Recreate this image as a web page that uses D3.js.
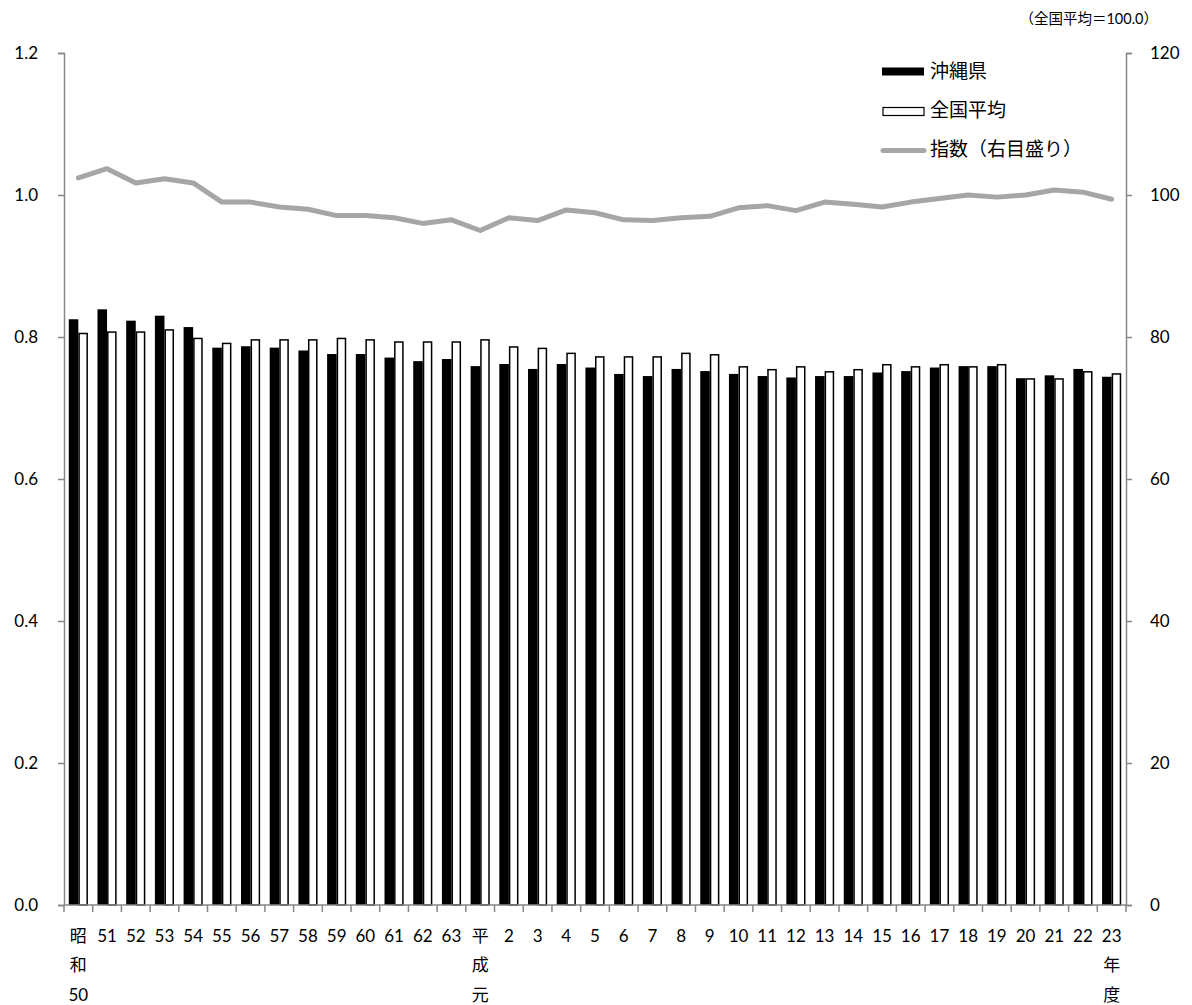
<!DOCTYPE html>
<html>
<head>
<meta charset="utf-8">
<script src="https://cdn.jsdelivr.net/npm/d3@7"></script>
<style>
body{margin:0;background:#fff;}
svg{display:block;font-family:Lato,"Noto Sans CJK JP",sans-serif;}
</style>
</head>
<body>
<svg id="chart" width="1192" height="1005"></svg>
<script>
const categories=[
  "昭和50","51","52","53","54","55","56","57","58","59","60","61","62","63",
  "平成元","2","3","4","5","6","7","8","9","10","11","12","13","14","15","16","17","18","19","20","21","22","23年度"
];
// 表示用の縦書きラベル
const tickLabels=[
  ["昭","和","50"],["51"],["52"],["53"],["54"],["55"],["56"],["57"],["58"],["59"],["60"],["61"],["62"],["63"],
  ["平","成","元"],["2"],["3"],["4"],["5"],["6"],["7"],["8"],["9"],["10"],["11"],["12"],["13"],["14"],["15"],["16"],["17"],["18"],["19"],["20"],["21"],["22"],["23","年","度"]
];
const okinawa=[0.825,0.839,0.823,0.830,0.814,0.785,0.787,0.785,0.781,0.776,0.776,0.771,0.766,0.769,
  0.759,0.762,0.755,0.762,0.757,0.748,0.745,0.755,0.752,0.748,0.745,0.743,0.745,0.745,0.750,0.752,0.757,0.759,0.759,0.742,0.746,0.755,0.744];
const national=[0.806,0.808,0.808,0.811,0.799,0.792,0.797,0.797,0.797,0.799,0.797,0.794,0.794,0.794,
  0.797,0.787,0.785,0.778,0.773,0.773,0.773,0.778,0.776,0.759,0.755,0.759,0.752,0.755,0.762,0.759,0.762,0.759,0.762,0.742,0.742,0.752,0.749];
const indexVals=[102.4,103.7,101.7,102.3,101.7,99.0,99.0,98.3,98.0,97.1,97.1,96.8,96.0,96.5,
  95.0,96.8,96.4,97.9,97.5,96.5,96.4,96.8,97.0,98.2,98.5,97.8,99.0,98.7,98.3,99.0,99.5,100.0,99.7,100.0,100.7,100.4,99.4];
const leftTicks=[0,0.2,0.4,0.6,0.8,1.0,1.2];
const rightTicks=[0,20,40,60,80,100,120];
const seriesNames=["沖縄県","全国平均","指数（右目盛り）"];

const svg=d3.select("#chart");
const L=64,R=1126,T=53,B=905;
const axisColor="#868686",lineColor="#a6a6a6";

const x=d3.scaleBand().domain(categories).range([L,R]).padding(0);
const xs=d3.scaleBand().domain(["o","n"]).range([0,x.bandwidth()]).paddingInner(0).paddingOuter(0.5);
const yL=d3.scaleLinear().domain([0,1.2]).range([B,T]);
const yR=d3.scaleLinear().domain([0,120]).range([B,T]);

const rows=categories.map((c,i)=>({c,o:okinawa[i],n:national[i],v:indexVals[i],lab:tickLabels[i]}));

// bars
const g=svg.append("g");
g.selectAll("rect.o").data(rows).join("rect").attr("class","o")
  .attr("x",d=>x(d.c)+xs("o")).attr("width",xs.bandwidth())
  .attr("y",d=>yL(d.o)).attr("height",d=>yL(0)-yL(d.o)).attr("fill","#000");
g.selectAll("rect.n").data(rows).join("rect").attr("class","n")
  .attr("x",d=>x(d.c)+xs("n")+0.75).attr("width",xs.bandwidth()-1.5)
  .attr("y",d=>yL(d.n)+0.75).attr("height",d=>yL(0)-yL(d.n)-0.75)
  .attr("fill","#fff").attr("stroke","#000").attr("stroke-width",1.5);

// axes
const axL=svg.append("g").attr("transform",`translate(${L},0)`)
  .call(d3.axisLeft(yL).tickValues(leftTicks).tickFormat(d3.format(".1f")).tickSize(6).tickPadding(20));
const axR=svg.append("g").attr("transform",`translate(${R},0)`)
  .call(d3.axisRight(yR).tickValues(rightTicks).tickFormat(d3.format("d")).tickSize(6).tickPadding(18));
[axL,axR].forEach(a=>{
  a.select(".domain").attr("stroke",axisColor).attr("stroke-width",1.5);
  a.selectAll(".tick line").attr("stroke",axisColor).attr("stroke-width",1.5);
  a.selectAll(".tick text").attr("font-size",17).attr("fill","#000").attr("font-family","Lato,'Noto Sans CJK JP',sans-serif");
});

// x axis
svg.append("line").attr("x1",L).attr("x2",R).attr("y1",B).attr("y2",B).attr("stroke",axisColor).attr("stroke-width",1.5);
const edges=categories.map(c=>x(c)).concat([x(categories[categories.length-1])+x.bandwidth()]);
svg.selectAll("line.xt").data(edges).join("line").attr("class","xt")
  .attr("x1",d=>d).attr("x2",d=>d).attr("y1",B).attr("y2",B+7).attr("stroke",axisColor).attr("stroke-width",1.5);
const xl=svg.selectAll("g.xl").data(rows).join("g").attr("class","xl");
xl.selectAll("text").data(d=>d.lab.map((t,k)=>({t,k,cx:x(d.c)+x.bandwidth()/2}))).join("text")
  .attr("x",d=>d.cx).attr("y",d=>936+d.k*29.5).attr("dy","0.35em").attr("text-anchor","middle")
  .attr("font-size",17).text(d=>d.t);

// index line
const line=d3.line().x(d=>x(d.c)+x.bandwidth()/2).y(d=>yR(d.v));
svg.append("path").datum(rows).attr("d",line).attr("fill","none")
  .attr("stroke",lineColor).attr("stroke-width",5).attr("stroke-linejoin","round").attr("stroke-linecap","round");

// legend
const lg=svg.append("g");
lg.append("rect").attr("x",882).attr("y",67.5).attr("width",42).attr("height",8).attr("fill","#000");
lg.append("rect").attr("x",883).attr("y",107.5).attr("width",41).attr("height",8).attr("fill","#fff").attr("stroke","#000").attr("stroke-width",1.2);
lg.append("line").attr("x1",883).attr("x2",924).attr("y1",150.5).attr("y2",150.5).attr("stroke",lineColor).attr("stroke-width",5).attr("stroke-linecap","round");
lg.selectAll("text").data(seriesNames).join("text")
  .attr("x",930).attr("y",(d,i)=>71.5+i*39).attr("dy","0.35em").attr("font-size",19).text(d=>d);

svg.append("text").attr("x",1158).attr("y",19).attr("dy","0.35em").attr("text-anchor","end")
  .attr("font-size",14.5).text("（全国平均＝100.0）");
</script>
</body>
</html>
